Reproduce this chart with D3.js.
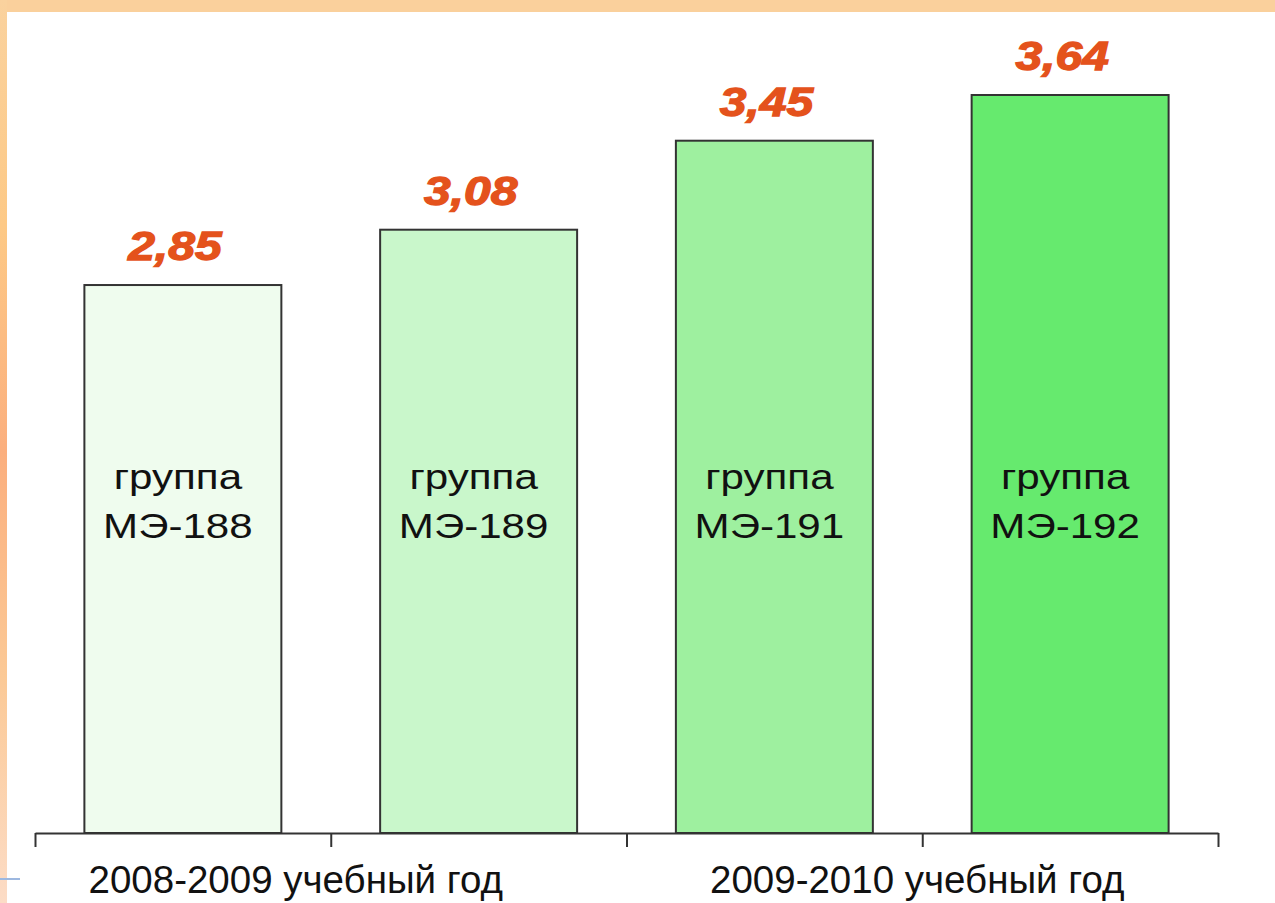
<!DOCTYPE html>
<html>
<head>
<meta charset="utf-8">
<script src="https://cdn.jsdelivr.net/npm/d3@7"></script>
<style>
  html, body { margin: 0; padding: 0; background: #fff; }
  svg { display: block; }
  .val { font-family: "Liberation Sans", Arial, sans-serif; font-weight: bold; font-style: italic; fill: #e4521c; stroke: #e4521c; stroke-width: 1.3px; }
  .grp { font-family: "Liberation Sans", Arial, sans-serif; fill: #111; }
  .year { font-family: "Liberation Sans", Arial, sans-serif; fill: #111; }
</style>
</head>
<body>
<svg id="chart"></svg>
<script>
// data
const groups = ['МЭ-188', 'МЭ-189', 'МЭ-191', 'МЭ-192'];
const values = [2.85, 3.08, 3.45, 3.64];
const years = ['2008-2009 учебный год', '2009-2010 учебный год'];

const width = 1275, height = 903;
const fills = ['#effcee', '#c9f7cb', '#9ef09f', '#66ea6e'];

const svg = d3.select('#chart')
  .attr('width', width)
  .attr('height', height);

// slide frame: orange strips on top and left
const grad = svg.append('defs').append('linearGradient')
  .attr('id', 'leftGrad')
  .attr('x1', 0).attr('y1', 0).attr('x2', 0).attr('y2', 1);
[[0, '#fad29e'], [0.25, '#fdc986'], [0.5, '#fbaf7e'], [0.75, '#fbc996'], [1, '#fcdcc6']]
  .forEach(s => grad.append('stop').attr('offset', s[0]).attr('stop-color', s[1]));

svg.append('rect').attr('x', 0).attr('y', 0).attr('width', width).attr('height', 12).attr('fill', '#fad09c');
svg.append('rect').attr('x', 0).attr('y', 0).attr('width', 7).attr('height', height).attr('fill', 'url(#leftGrad)');
svg.append('line').attr('x1', 0).attr('x2', 20).attr('y1', 879).attr('y2', 879)
  .attr('stroke', '#9db8e0').attr('stroke-width', 2);

// scales
const x = d3.scaleBand()
  .domain(groups)
  .range([35, 1218])
  .paddingInner(0.334)
  .paddingOuter(0.167);

const y = d3.scaleLinear()
  .domain([0.572, 3.64])
  .range([833, 95]);

const ru = d3.formatLocale({ decimal: ',', thousands: ' ', grouping: [3], currency: ['', ''] });
const fmt = ru.format('.2f');

// bars
svg.selectAll('.bar')
  .data(values)
  .enter().append('rect')
  .attr('class', 'bar')
  .attr('x', (d, i) => x(groups[i]))
  .attr('y', d => y(d))
  .attr('width', x.bandwidth())
  .attr('height', d => y.range()[0] - y(d))
  .attr('fill', (d, i) => fills[i])
  .attr('stroke', '#333')
  .attr('stroke-width', 2);

// value labels above bars
svg.selectAll('.val')
  .data(values)
  .enter().append('text')
  .attr('class', 'val')
  .attr('text-anchor', 'middle')
  .attr('transform', (d, i) => `translate(${x(groups[i]) + x.bandwidth() / 2 - 8},${y(d) - 25}) scale(1.2,1)`)
  .style('font-size', '40px')
  .text(d => fmt(d));

// group names inside bars
const grp = svg.selectAll('.grp')
  .data(groups)
  .enter().append('text')
  .attr('class', 'grp')
  .attr('text-anchor', 'middle')
  .attr('transform', d => `translate(${x(d) + x.bandwidth() / 2 - 5},0) scale(1.17,1)`)
  .style('font-size', '36px');
grp.append('tspan').attr('x', 0).attr('y', 489).text('группа');
grp.append('tspan').attr('x', 0).attr('y', 538).text(d => d);

// x axis with ticks on band edges
const edge = d3.scaleLinear().domain([0, groups.length]).range(x.range());
const axis = svg.append('g')
  .attr('transform', `translate(0,833)`)
  .call(d3.axisBottom(edge)
    .tickValues(d3.range(groups.length + 1))
    .tickFormat('')
    .tickSizeInner(14)
    .tickSizeOuter(0));
axis.selectAll('path, line').attr('stroke', '#333').attr('stroke-width', 2);

// academic year labels under each pair of bars
const yearOffsets = [-35, -5];
svg.selectAll('.year')
  .data(years)
  .enter().append('text')
  .attr('class', 'year')
  .attr('text-anchor', 'middle')
  .attr('x', (d, i) => edge(i * 2 + 1) + yearOffsets[i])
  .attr('y', 893)
  .style('font-size', '38.5px')
  .text(d => d);
</script>
</body>
</html>
